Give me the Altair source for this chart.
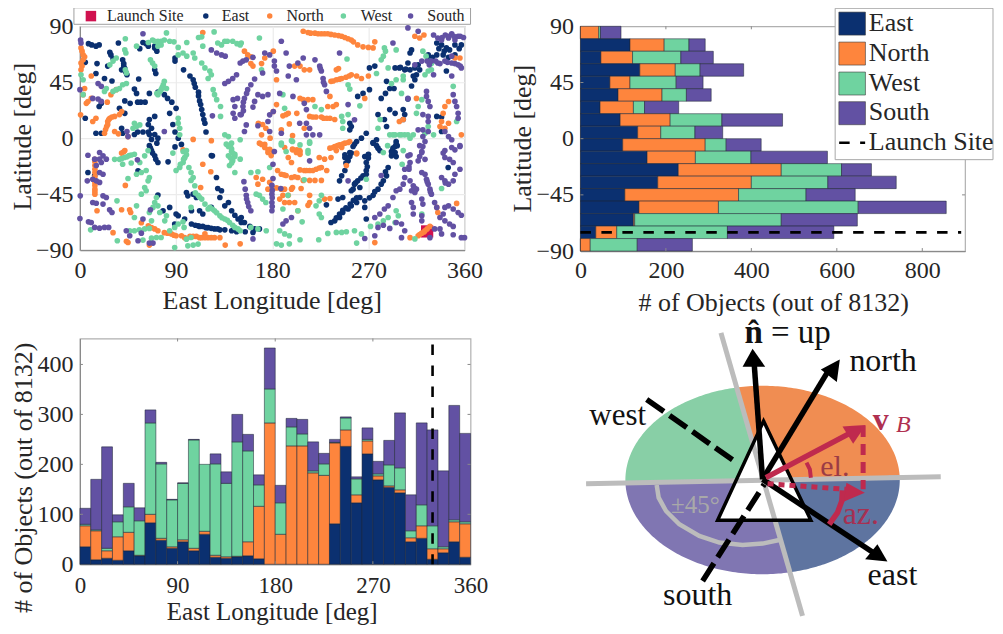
import altair as alt
import numpy as np
import pandas as pd

FONT = "Liberation Serif"
INK = "#262626"
COL = {"East": "#0b3070", "North": "#fe853d", "West": "#6fd3a0", "South": "#6251a3"}
ORDER = ["East", "North", "West", "South"]
CRIMSON = "#d0114f"
LAUNCH_LON, LAUNCH_LAT = 325, -75

east_pts = [(8,76),(11,75),(15,74),(18,75),(36,76.6),(28,69),(29,67),(31,64),(5,61),(16,60),(26,58),(40,63),(41,60),(42,56),(44,51),(15,52),(23,48),(30,46),(39,55),(59,77),(64,74),(70,72.5),(72,70),(56,72),(70,55),(71,52),(55,47.6),(51,39.5),(53,36),(65,36),(73,37),(79,35),(82,32),(86,29),(42,30),(47,28),(54,29),(57,29),(61,29),(18,25.5),(20,28),(37,24),(42,20),(70,17.5),(65,15),(5,16),(90,24),(84,20),(64,11),(67,8),(54,5),(59,5),(64,5),(15,4),(20,4),(39,8),(40,4),(51,3),(65,3),(70,3),(73,0),(67,-1),(72,-4),(87,11),(89,5),(92,0),(95,-5),(89,-7),(123,-14),(97,55),(89,64.5),(89,62),(103,50),(107,44),(108,41),(111,34),(112,30),(114,23),(115,19),(117,12),(118,5),
(271,56.5),(276,58),(260,33.6),(265,36),(271,39),(282,32),(286,36),(290,40),(294,40),(287,45.7),(295,56.5),(299,56.5),(304,55),(309,55),(313.5,56.5),(316.6,59),(318,55),(315,51),(313.5,47),(310.4,42),(307,60.5),(309,68.5),(310.4,71),(334,76.6),(338.5,75),(343,72.6),(351,75),(357,75),(340,67),(346,71),(327.6,63),(334,67),(351,67),(343,54),(290,23),(295,20),(302.6,23),(304,19),(302.6,15),(279,19),(285,15),(287,9.4),(338.5,17),(334,17.5),(307,31.5),(252.6,12),(254,9.4),(252.6,6.7),(268,4),(263.5,0),(259,-2.7),(255.7,-6.7),(277.6,-1.3),(274.4,-4),(279,-8),(296,-2.7),(295,-6.7),(291.6,-10.7),(296,-14.8),(248,-13.4),(252.6,-14.8),(270,-13.4),(266.6,-14.8),(338.5,5.4),
(257,-4.8),(252.6,-11.5),(248,-15.5),(251,-18.2),(248,-26),(245,-30.3),(243,-34.3),(270,-12.9),(268,-19.6),(268,-26),(265,-30.3),(260,-34.3),(257,-37),(254,-42.3),(274.4,-3.5),(288.5,-23.6),(287,-30.3),(284,-34.3),(279,-41),(274.4,-46),(266.6,-50.4),(266.6,-55.7),(295,-11.5),(296,-4.8),(291.6,-14.2),(277.6,-6),(280.7,-10),(262,-47.7),(259,-51.7),(254,-54.4),(251,-57),(246,-59.8),(243,-63.8),(238.5,-66.5),(235,-67.8),(230.7,-53.6),(241.6,-49),(246,-47.7),(268,-65),(255.7,-41),(262,-39.7),(344.7,-23.6),(151,-63.8),(154,-67.8),(159,-71),(163.5,-73),(168,-73),(154.7,-75.3),(162,-75.8),
(65,-6),(67,-10),(70,-14.2),(73,-19.6),(54.4,-26.3),(73,-45.8),(7.5,-27.6),(13.8,-30),(124,-14.2),(82.5,-19),(99.7,-43.7),(101,-46.4),(106,-45),(109,-47.7),(129,-40.5),(132.5,-42.3),(131,-47.7),(135.6,-54.4),(139,-51.7),(127.8,-31.6),(77.8,-58.4),(84,-55.7),(90,-61),(92,-62.4),(98,-65),(88.7,-69),(104.4,-58.4),(112,-58.4),(115,-61),(123,-55.7),(104.4,-69),(110.6,-70.5),(115,-71),(120,-72),(126,-73),(131,-73.7),(135.6,-73.7),(142,-74.5),(146.6,-75.3),(142,-58.4),(145,-62),(148,-65),(151,-67.8),
(240,-64),(243,-61),(246,-58),(249,-56),(253,-53),(256,-50),(259,-48),(254,-12),(250,-16),(249,-20),(270,-16),(269,-23),(268,-29),(263,-32),(258,-36),(286,-27),(282,-37),(276,-43),(271,-48),(293,-8),(292,-12),(297,-6),(305,55.5),(312,50),(300,57),(336,72),(341,70),(326,67),(330,65),(345,65),(355,72),(108,-70),(112,-71),(118,-72),(123,-72.5),(129,-73),(66,-8),(68,-12),(71,-17),(113,27),(116,15),(111,37),(106,47),(43,53),(41,58),(70,74),(62,76)]

north_pts = [(209,86),(213.5,85),(220,84.5),(226,84),(232,84),(238.5,83),(245,82),(251,80),(256,77.5),(260,75),(265,73.5),(270,73),(276,77.5),(115,85),(313.5,82),(318,80.6),(322,83),(154,70),(157,67),(160,65.5),(160,60),(162,58),(170,60),(173,64.5),(181,70),(201,58),(206,58),(210,55),(215,55),(184,47),(240,55),(242,56),(235,45.7),(240,47),(245,48),(249,49),(254,51),(259,50),(263.5,48),(270,50),(234,33.6),(232,25.5),(237,25.5),(240,27),(209,31),(213.5,31),(218,31),(206,32),(184,27),(181,21.5),(190,18),(195,20),(203,20),(215,17.5),(221,17),(228,16),(234,16),(238.5,15),(196,11.5),(188.5,6.7),(167,12),(171,11),(174,8),(170,2.7),(178,0),(199,2),(210,8),(168,-4),(173,-5),(176,-9.4),(181,-10.7),(199,-9.4),(203,-9.4),(206,-10.7),(206,-13),(234,-8),(238.5,-6.7),(243,-5.4),(248,-4),(252.5,-2.7),(299,13.4),(302.6,15),(338.5,13.4),(340,20),(341.6,25.5),(345,29.5),(345,12),(341.6,8),(337,9.4),(357,2.7),(266.6,32),(259,-12.6),(315,32),(355.7,64.5),(351,64.5),(274.4,72.6),
(1,72.6),(3,67),(1,60.5),(1,55),(4.4,65.5),(3,63),(10.6,50),(4.4,40),(3,35),(6,28),(10.6,32),(7.5,29.5),(25.6,29),(34,39),(29,35),(0.6,18.8),(12,13.4),(15,16),(32.5,17.5),(28,16),(25,9.4),(23,4),(26,13.4),(37,19),(39,21.5),(32.5,5.4),(36,3.5),(45,1.3),(106,-1),(123,-2),(41,-11),(39,-12),(96.6,-9.4),
(42,-10),(14,-17),(14,-22),(14,-27.6),(14,-35.6),(14,-41),(14,-45),(16,-58.4),(42.5,-38),(39,-57.6),(46.5,-57.6),(47.5,-59.8),(115,-21),(122.5,-27),(113,-39.7),(31,-76),(43.5,-83),(45,-83.9),(64,-70.5),(67,-72),(70,-73),(73,-74.5),(65,-86),(79,-76),(85.6,-77),(90,-78.5),(95,-78.5),(98,-80),(109,-79),(114,-80),(120,-80),(126,-80),(131,-80),(136,-86),(150,-85),(57.5,-68),(117,-77),
(170,-5),(173,-7.5),(176,-11.5),(179,-14),(177.6,-9),(191.6,-7.5),(199,-8.8),(202.6,-11.5),(205.7,-10),(195,-15.5),(198,-19.6),(224,-15.5),(229,-16.9),(235,-15.5),(240,-10),(245,-7.5),(251,-3.5),(185,-26),(188.5,-29),(193,-30),(198,-31.6),(204,-31.6),(206,-25.5),(210,-26),(215,-26),(221,-25),(226,-23.6),(231,-26),(215,-34),(220,-34),(226,-34),(209,-34),(165,-31.6),(166.6,-37),(171,-33),(177.6,-35.6),(176,-41),(184,-40),(188.5,-41),(191.6,-41),(199,-39.7),(207,-40.5),(190,-46),(195,-46),(187,-49),(198,-41),(191.6,-51.7),(196,-51.7),(201,-51.7),(215,-46),(215,-51.7),(213.5,-54),(204,-58.4),(229,-49),(234,-48.5),(259,-12),(249.4,-22),(309,-80),(276,-84),(352.6,-52.5),(334,-55.7),(335,-59.8),(316.6,-78.5),(320,-76.4),(323,-74.5),(327.6,-71),
(216,84.5),(223,84),(229,84),(235,83.5),(242,82.5),(248,81),(254,79),(26,11),(24,7),(27,15),(30,17),(2,70),(2,58),(237,46),(243,47.5),(252,50),(218,-26),(224,-24),(212,-26),(201,-31),(191,-29.5),(237,-7.5),(241,-6),(246,-4.7),(14,-19),(14,-25),(14,-31),(14,-38),(14,-43),(103,-79),(106,-79),(112,-80),(117,-80),(123,-80),(82,-76.5),(88,-78),(318,-77.5),(322,-75.5),(325,-73),(226,17),(231,16),(218,17),(193,19)]

west_pts = [(42.5,80),(81,84.7),(125.6,85.5),(64,77),(68,79),(73,78),(76,78),(79,79),(76,75),(73,74),(88,77.5),(42,71),(43,68.5),(53,74),(100,77),(92,73),(96.5,68.5),(92,67),(100,66),(114,81.5),(111,81),(115,74),(106,68.5),(107.5,64.5),(114,60.5),(117,56.5),(121.6,54),(123,51),(120,48),(129,76.6),(135.6,78),(143,78),(150,75),(132.5,75),(34,64.5),(31,62),(28,59),(1,51),(3,47),(66,63),(68,60.5),(70,58),(42.5,55),(43.5,52.4),(79,45.7),(78,43),(76,39),(73,35),(81,40),(75,37.6),(37,40),(34,39),(31,37.6),(40,43),(43.5,44),(24.7,40),(23,37.6),(3,35),(124.7,39),(126,35),(128,31),(131.6,25.5),(131.6,17.5),(92,16),(92,12),(93.4,8),(93.4,2.7),(49.7,8),(53,9.4),(56,10.7),(51,12),(135.6,2.7),(139,1.3),(141.9,-4),(141.9,-10.7),(139,-6.7),(145,-14.8),(150,-1.3),(87,-12),(96.6,-10.7),(99.7,-13.4),(98,-16),
(32.5,-17),(37,-17),(41.6,-15.5),(46,-14),(51,-12.9),(40,-21),(48,-20),(56,-19.6),(60.6,-14.2),(63.8,-10),(53,-29),(57.5,-27.6),(62,-26),(45,-32.4),(63.8,-34.3),(60.6,-39.7),(57.5,-45),(62,-42.3),(65,-31.6),(34.7,-50.4),(53,-54.4),(71.6,-47.7),(70,-51.7),(68.4,-55.7),(74.7,-59.8),(73,-54.4),(65,-59.8),(51,-63.8),(67,-66.5),(46.6,-74.5),(51,-74.5),(55.6,-73.7),(60.6,-73),(65,-72.6),(10,-73.7),(35,-82.5),(59,-82),(67,-80.4),(71.6,-79.9),(76,-79.9),(81,-62.4),(79.4,-66.5),(84,-74.5),(88.7,-71.8),(92,-69),(96.5,-67.3),(97.5,-71.8),(88.7,-88),(99.7,-81.2),(104,-79.9),(101,-86.6),(106,-86),(110.6,-85.2),(90,-26),(93.4,-23.6),(96.6,-19.6),(98,-15.5),(99.7,-10),(102,-23.6),(104,-27.6),(106,-31.6),(104,-55.7),(110.6,-46),(114,-49),(117,-53),(121.6,-55.7),(126,-58.4),(131,-62.4),(135.6,-65),(140,-67.8),(145,-71.8),(150,-74.5),(142,-8.8),(145,-12.9),(143,-18.2),(139,-14.2),(140,-22),(145,-27.6),(150,-16.9),(137,-4.8),(104,-34),(107.5,-38.3),
(160,-27.6),(166.6,-27),(177.6,-23.6),(168,-46),(171,-49),(174,-51.7),(165,-45),(160,-71.8),(166.6,-73),(174.4,-74.5),(194.7,-46),(210,-33.5),(213.5,-10),(215,-3),(198,-2),(188.5,-4),(190,-57),(204,-58.4),(226,-46),(224,-50.4),(221,-54.4),(224,-61),(226,-63.8),(208,-67.3),(187,-74.5),(191.6,-77),(196,-78.5),(206,-81.7),(184,-85),(188.5,-86),(196,-85),(223.5,-81.7),(232,-76.6),(240,-75.8),(245,-75.8),(249.4,-75.3),(257,-74.5),(259,-84.4),(263.5,-77),(268,-33),(272,-71),(279,-69),(284,-66.5),(288.5,-63.8),(296,-58.4),(298,-62.4),(295,-67.8),(301.6,-21),(302.6,-10),(284,-11.5),(288,-6),(313.5,-81),(320,-61),(338.5,-40.5),
(168,80.6),(151,76.6),(170,55),(285,72.6),(286,70),(284,66),(282,63),(250,63.7),(251,43),(252.6,39.5),(321,70),(324,66),(327.6,61.8),(329,60),(296,71),(277.6,52),(288.5,56.5),(302.6,50),(302.6,47),(291.6,44),(296,47),(323,51),(326,54),(329,55),(301,36),(349.4,41.7),(190,35),(191.6,24),(220,25.5),(226,23),(251,19),(245,17.5),(246,13.4),(246,8),(281,15),(279,8),(262,26),(320,31),(316.6,25.5),(315,20),(326,9.4),(290,2.7),(295,2.7),(299,2.7),(304,2.7),(312,2.7),(309,0),(323,4),(331,2.7),(352.6,13.4),(188.5,-5.4),(193,-10.7),(199,-2.7),(206,-5.4),(215,-4),(213.5,-12),
(120,-57),(124,-57),(128,-60),(133,-64),(138,-66),(143,-70),(148,-73),(112,-47.5),(108,-44),(70,78),(84,78),(138,78),(147,76),(77,41),(72,36),(141,-7),(143,-12),(141,-16),(142,-20),(39,-16.5),(44,-15),(48,-13.5),(293,2.7),(301,2.7),(307,2.7),(94,-21),(97,-17)]

south_pts = [(0.6,79),(1,76.6),(59,84),(123,71),(128,68.5),(132.5,67),(136,66),(17,44),(20,41.7),(0,39),(12,32),(17,31.5),(20,29.6),(135.6,44),(139,45.7),(143,48),(146.6,51),(150,60.5),(143.4,31),(147.5,32),(145,25.5),(143.4,20),(145,16),(124,18),(44,5.4),(45,1.3),(79,5.4),(150,19),
(152.6,62),(155.7,63),(162,65),(173,68.5),(177.6,67),(188.5,78),(193,68.5),(182,62),(182,58),(184,54),(171,52.4),(163.5,47.6),(196,58),(204,60.5),(209,64.5),(220,63),(195,50),(202.6,47),(224.4,58),(226,54),(227.6,48),(229,43),(230.7,37.6),(243,68.5),(160,43),(157,39),(154,32),(152.6,25.5),(151,19),(155.7,10.7),(154,5.4),(166.6,35),(171,33.6),(176,35),(163.5,29.6),(162,25),(177.6,18.8),(181,21.5),(176,13.4),(177.6,5.4),(166.6,10),(187,36),(199.4,33.6),(210,28),(212,23),(205.7,12),(212,12),(215,8),(218,2.7),(212,2.7),(188.5,4),(224.4,2.7),(257,14.8),(251,27),(182,-10.7),(307,88.7),(316.6,86),(331,83),(335,80.6),(342,83),(348,84),(354,82),(359,81),(338.5,79),(345,80.6),(351,79),(293,76.6),(320,62),(329,62),(335,60.5),(341.6,62),(348,60.5),(354,59),(357,56.5),(348,66),(331,51),(348,50),(313.5,59),(324.4,37.6),(324.4,33.6),(326,29.6),(327.6,25.5),(351,29.6),(352.6,25.5),(354,20),(354,16),(349.4,35),(307,32),(321,19),(326,17.5),(326,13.4),(316.6,6.7),(321,6.7),(326,5.4),(341.6,5.4),(345,1.3),(348,-1.3),(321,1.3),(323,-2.7),(321,-6.7),(320,-10.7),(318,-14.8),(340,-12),(351,-9.4),(355.7,-6.7),(309,-13.4),
(7.5,-13.7),(18.4,-11.5),(21.6,-14.2),(24.7,-16.9),(13.8,-16.9),(15.3,-22),(18.4,-16.9),(20,-19.6),(21.6,-29),(18.4,-27.6),(6.9,-34.3),(12,-33),(15.3,-34.3),(18.4,-35.6),(0.3,-46.4),(21.6,-46.4),(24.7,-47.7),(12,-51.7),(15.3,-52.3),(21.6,-53),(27.8,-57.6),(30,-59.8),(0,-64.6),(8,-67.3),(10.6,-67.8),(13.8,-71.8),(18.4,-72.4),(23,-71.8),(26.9,-71.8),(43.4,-74.5),(46.6,-78.5),(54.4,-82.5),(57.5,-76.4),(65,-84.4),(68.4,-84.4),(66,-57.6),(53.8,-17.4),(59,-65),
(154.7,-41),(155.7,-46),(157,-51.7),(160,-58.4),(153.5,-35),(179.7,-38),(179.7,-45),(179.7,-51.7),(179.7,-58.4),(180.7,-21),(180.7,-32.4),(188,-40.5),(190,-69),(193,-66.5),(198,-63.8),(215,-18.2),(251,-34.3),(162,-81),(307,-14.2),(309,-19.6),(308,-25),(304,-31.6),(302.6,-37),(318,-6),(320,-11.5),(316.6,-18.2),(323,-17),(320,-27.6),(323,-29),(304,-25),(309,-34.3),(312,-38.3),(315,-41),(310.4,-42.3),(313.5,-43.7),(324.4,-33),(326,-37),(327.6,-41),(329,-45),(296,-42.3),(299.4,-41),(293,-47.7),(310.4,-51.7),(312,-55.7),(312,-61),(320,-49),(321,-53),(332,-51.7),(334,-55.7),(341.6,-15.5),(346,-17),(349.4,-19.6),(341.6,-10),(348,-7.5),(355.7,-6),(338.5,-31.6),(341.6,-34.3),(345,-37),(349.4,-34.3),(351,-29),(355.7,-25),(341.6,-55.7),(345,-54.4),(340,-61),(337,-63.8),(349.4,-57),(354,-59.8),(357,-62),(341.6,-66.5),(346,-69),(349.4,-71),(337,-73),(338.5,-77),(349.4,-77.7),(357,-80),(360,-80),(332,-73),(327.6,-80),(320,-62.4),(320,-66.5),(304,-74.5),(301,-80),(276,-78.5),(266.6,-80.7),(276,-63.8),(280.7,-61),(285,-57),(288.5,-54.4),(279,-71.8),(284,-70),(290,-72.6),(296,-67.8),(301,-69),(282,-30),
(337,60),(344,61),(351,60),(356,58),(333,62),(325,62),(327,59),(345,82),(350,82),(356,82),(339,81),(180,-42),(180,-48),(180,-55),(156,-49),(158,-55),(308,-23),(313,-40),(342,-36),(325,-35),(328,-43),(228,45),(225,56),(153,22),(153,29),(156,36)]

# latitude histogram, top bin (80..90) first
lat_top = list(range(90, -90, -10))
east_b = [0,116,48,139,69,88,46,93,134,99,156,229,181,104,137,124,36,0]
north_b = [43,80,74,83,47,103,78,117,54,193,113,241,219,266,186,3,49,23]
west_b = [4,58,113,58,108,57,26,121,80,49,130,141,179,158,327,343,259,110]
south_b = [48,38,76,102,63,58,80,142,65,82,179,70,160,115,206,178,249,129]

# longitude histogram, 10 degree bins from 0
lon_start = list(range(0, 360, 10))
east_c = [35,9,12,8,27,17,83,48,32,45,27,60,14,12,15,17,11,0,0,0,0,0,0,81,236,123,221,169,154,143,45,52,10,23,45,14]
north_c = [42,58,15,47,37,1,17,4,3,4,5,6,4,3,1,28,105,283,60,237,237,183,178,162,33,16,26,8,3,6,8,25,21,8,40,67]
west_c = [3,2,5,30,51,69,183,149,94,113,217,134,183,147,229,182,43,68,63,38,24,4,23,1,24,32,3,4,42,44,14,42,46,4,4,4]
south_c = [32,101,203,14,47,26,26,3,1,1,1,0,20,23,55,33,20,82,35,17,29,58,21,6,2,4,23,25,49,110,72,164,192,152,229,177]

GRID = "#ebebeb"
DOMAIN = "#8a8a8a"
BOX = "#b0b0b0"
one = pd.DataFrame({"a": [0]})
color_scale = alt.Scale(domain=ORDER, range=[COL[k] for k in ORDER])

def axis(values, title, tx, ty, rotated=False, grid=False, pad=8, lsize=24, tsize=26):
    kw = dict(values=values, title=title, grid=grid, gridColor=GRID, gridWidth=1.2, tickSize=0, labelPadding=pad,
              labelFont=FONT, labelFontSize=lsize, labelColor=INK, titleFont=FONT, titleFontSize=tsize,
              titleFontWeight="normal", titleColor=INK, domainColor=DOMAIN, domainWidth=1.2,
              titleX=tx, titleY=ty, titleAlign="center", titleBaseline="middle", labelFlush=False)
    if rotated:
        kw["titleAngle"] = 270
    return alt.Axis(**kw)

def box(x1, x2, y1, y2, fill, stroke=None, sw=1):
    kw = dict(fill=fill, strokeWidth=sw)
    if stroke:
        kw["stroke"] = stroke
    return alt.Chart(one).mark_rect(**kw).encode(x=alt.value(x1), x2=alt.value(x2), y=alt.value(y1), y2=alt.value(y2))

def label(x, y, text, size, color=INK, align="left"):
    return alt.Chart(one).mark_text(text=text, font=FONT, fontSize=size, color=color, align=align, baseline="middle").encode(
        x=alt.value(x), y=alt.value(y))

# ---------- top-left scatter
AW, AH = 385, 224
lon_s = alt.Scale(domain=[0, 360], nice=False)
lat_s = alt.Scale(domain=[-90, 90], nice=False)
base_a = alt.Chart(pd.DataFrame({"lon": [LAUNCH_LON], "lat": [LAUNCH_LAT]})).mark_square(size=150, color=CRIMSON, opacity=1).encode(
    x=alt.X("lon:Q", scale=lon_s, axis=axis([0,90,180,270,360], "East Longitude [deg]", 192, 50, grid=True)),
    y=alt.Y("lat:Q", scale=lat_s, axis=axis([-90,-45,0,45,90], "Latitude [deg]", -57, 110, rotated=True, grid=True, pad=7)))
layers_a = [base_a]
for name, pts in zip(ORDER, [east_pts, north_pts, west_pts, south_pts]):
    df = pd.DataFrame(pts, columns=["lon", "lat"])
    layers_a.append(alt.Chart(df).mark_circle(size=32, color=COL[name], opacity=1).encode(
        x=alt.X("lon:Q", scale=lon_s), y=alt.Y("lat:Q", scale=lat_s)))
OX = 79
layers_a.append(box(73-OX, 470-OX, -18.5, -2, "white", "#a0a0a0"))
layers_a.append(alt.Chart(one).mark_square(size=110, color=CRIMSON, opacity=1).encode(x=alt.value(90-OX), y=alt.value(-10.2)))
layers_a.append(label(106-OX, -10.2, "Launch Site", 16))
for name, dx, tx in [("East", 205, 221), ("North", 269, 285.7), ("West", 342.7, 360), ("South", 410, 426.7)]:
    layers_a.append(alt.Chart(one).mark_circle(size=30, color=COL[name], opacity=1).encode(x=alt.value(dx-OX), y=alt.value(-10.2)))
    layers_a.append(label(tx-OX, -10.2, name, 16))
chart_a = alt.layer(*layers_a).properties(width=AW, height=AH, view=alt.ViewConfig(stroke=BOX))

def inward(values, orient, w, h):
    df = pd.DataFrame({"v": values})
    out = []
    if orient == "x":
        for a, b in [(h, h-3), (0, 3)]:
            out.append(alt.Chart(df).mark_rule(color=DOMAIN, strokeWidth=1).encode(x=alt.X("v:Q"), y=alt.value(a), y2=alt.value(b)))
    else:
        for a, b in [(0, 3), (w, w-3)]:
            out.append(alt.Chart(df).mark_rule(color=DOMAIN, strokeWidth=1).encode(y=alt.Y("v:Q"), x=alt.value(a), x2=alt.value(b)))
    return out

# ---------- top-right latitude histogram
BW, BH = 385, 225
rows = []
for i, top in enumerate(lat_top):
    left = 0
    for name, arr in zip(ORDER, [east_b, north_b, west_b, south_b]):
        rows.append({"top": top, "bot": top-10, "x0": left, "x1": left+arr[i], "dir": name})
        left += arr[i]
df_b = pd.DataFrame(rows)
cnt_s = alt.Scale(domain=[0, 900], nice=False)
bars_b = alt.Chart(df_b).mark_bar(stroke="#1d2433", strokeWidth=0.7, strokeOpacity=0.75).encode(
    x=alt.X("x0:Q", scale=cnt_s, axis=axis([0,200,400,600,800], "# of Objects (out of 8132)", 193, 51, pad=7)),
    x2="x1:Q",
    y=alt.Y("top:Q", scale=lat_s, axis=axis([-90,-45,0,45,90], "Latitude [deg]", -58, 112, rotated=True, pad=7)),
    y2="bot:Q",
    color=alt.Color("dir:N", scale=color_scale, legend=None))
dash_b = alt.Chart(pd.DataFrame({"x0": [0], "x1": [891], "lat": [LAUNCH_LAT]})).mark_rule(
    color="black", strokeWidth=2.6, strokeDash=[10.5, 10.5]).encode(
    x=alt.X("x0:Q", scale=cnt_s), x2="x1:Q", y=alt.Y("lat:Q", scale=lat_s))
OXB, OYB = 581, 26.5
layers_b = [bars_b, dash_b] + inward([200,400,600,800], "x", BW, BH) + inward([-45,0,45], "y", BW, BH)
layers_b.append(box(836-OXB, 994-OXB, 8.5-OYB, 160-OYB, "white", "#a8a8a8"))
for name, y0 in zip(ORDER, [12.3, 42.3, 72.3, 102]):
    layers_b.append(box(839.7-OXB, 866.3-OXB, y0-OYB, y0+23-OYB, COL[name], "#3a3a3a", 0.6))
    layers_b.append(label(869.7-OXB, y0+10.5-OYB, name, 26))
layers_b.append(alt.Chart(one).mark_rule(color="black", strokeWidth=2.6, strokeDash=[10.5, 10.5]).encode(
    x=alt.value(840-OXB), x2=alt.value(866-OXB), y=alt.value(143-OYB)))
layers_b.append(label(869.7-OXB, 142-OYB, "Launch Site", 26))
chart_b = alt.layer(*layers_b).properties(width=BW, height=BH, view=alt.ViewConfig(stroke=BOX))

# ---------- bottom-left longitude histogram
CW, CH = 391, 226
rows = []
for i, lo in enumerate(lon_start):
    base = 0
    for name, arr in zip(ORDER, [east_c, north_c, west_c, south_c]):
        rows.append({"lo": lo, "hi": lo+10, "y0": base, "y1": base+arr[i], "dir": name})
        base += arr[i]
df_c = pd.DataFrame(rows)
df_c = df_c[df_c.y1 > df_c.y0]
h_s = alt.Scale(domain=[0, 452], nice=False)
bars_c = alt.Chart(df_c).mark_bar(stroke="#1d2433", strokeWidth=0.7, strokeOpacity=0.75).encode(
    x=alt.X("lo:Q", scale=lon_s, axis=axis([0,90,180,270,360], "East Longitude [deg]", 192, 47.5, pad=10.5, lsize=23, tsize=25)),
    x2="hi:Q",
    y=alt.Y("y0:Q", scale=h_s, axis=axis([0,100,200,300,400], "# of Objects (out of 8132)", -56, 139, rotated=True, pad=7)),
    y2="y1:Q",
    color=alt.Color("dir:N", scale=color_scale, legend=None))
dash_c = alt.Chart(pd.DataFrame({"lon": [LAUNCH_LON], "y0": [440], "y1": [0]})).mark_rule(
    color="black", strokeWidth=2.6, strokeDash=[10.5, 10.5]).encode(
    x=alt.X("lon:Q", scale=lon_s), y=alt.Y("y0:Q", scale=h_s), y2="y1:Q")
chart_c = alt.layer(bars_c, dash_c, *inward([90,180,270], "x", CW, CH), *inward([100,200,300,400], "y", CW, CH)).properties(
    width=CW, height=CH, view=alt.ViewConfig(stroke=BOX))

# ---------- bottom-right schematic (units: 3 per picture pixel)
dx_s = alt.Scale(domain=[33, 1188], nice=False, zero=False)
dy_s = alt.Scale(domain=[750, 72], nice=False, zero=False)
X = lambda: alt.X("x:Q", scale=dx_s, axis=None)
Y = lambda: alt.Y("y:Q", scale=dy_s, axis=None)

def poly(verts, fill):
    xs = sorted({round(v[0], 3) for v in verts})
    rows = []
    n = len(verts)
    for x in xs:
        ys = []
        for i in range(n):
            (x1, y1), (x2, y2) = verts[i], verts[(i+1) % n]
            if min(x1, x2) - 1e-3 <= x <= max(x1, x2) + 1e-3:
                if abs(x2-x1) < 1e-6:
                    ys += [y1, y2]
                else:
                    ys.append(y1 + (y2-y1)*(x-x1)/(x2-x1))
        rows.append({"x": x, "y": min(ys), "y2": max(ys)})
    return alt.Chart(pd.DataFrame(rows)).mark_area(color=fill, opacity=1, orient="vertical", interpolate="linear").encode(
        x=X(), y=Y(), y2="y2:Q")

def line(pts, color, width, dash=None, cap="butt"):
    df = pd.DataFrame(pts, columns=["x", "y"])
    df["i"] = range(len(df))
    kw = dict(color=color, strokeWidth=width, strokeCap=cap, strokeJoin="miter")
    if dash:
        kw["strokeDash"] = dash
    return alt.Chart(df).mark_line(**kw).encode(x=X(), y=Y(), order="i:Q")

def dtext(x, y, text, size, color="#111111", align="center", **kw):
    return alt.Chart(pd.DataFrame({"x": [x], "y": [y]})).mark_text(
        text=text, font=FONT, fontSize=size, color=color, align=align, baseline="middle", **kw).encode(x=X(), y=Y())

CX, CY, RX, RY = 580, 497, 412, 283
C0 = (585, 503)
def arc(x0, y0, x1, y1, ccw):
    t0 = np.arctan2((y0-CY)/RY, (x0-CX)/RX)
    t1 = np.arctan2((y1-CY)/RY, (x1-CX)/RX)
    if ccw and t1 > t0:
        t1 -= 2*np.pi
    if not ccw and t1 < t0:
        t1 += 2*np.pi
    return [(CX+RX*np.cos(t), CY+RY*np.sin(t)) for t in np.linspace(t0, t1, 90)]

P_top = (500, 222); P_right = (992, 483); P_bot = (660, 776); P_left = (168, 500)
wedges = [
    ("#88cfa6", [C0] + arc(*P_left, *P_top, False)),
    ("#f08d52", [C0] + arc(*P_top, *P_right, False)),
    ("#5e74a0", [C0] + arc(*P_right, *P_bot, False)),
    ("#8076b2", [C0] + arc(*P_bot, *P_left, False)),
]
GRAY = "#bcbcbc"
d_layers = [poly(v, c) for c, v in wedges]
tri = [(583, 320), (725, 618), (445, 618)]
d_layers += [poly(tri, "white")]
d_layers += [line([(50, 508), (1115, 487)], GRAY, 5), line([(455, 55), (700, 905)], GRAY, 5)]
d_layers += [line([(262, 512), (268, 550), (290, 590), (330, 630), (390, 665), (450, 685), (520, 692), (580, 688), (630, 677)], GRAY, 4.5)]
d_layers += [line(tri + [tri[0], tri[1]], "black", 3.5)]
d_layers += [line([(232, 255), (505, 447)], "black", 5.5, [21, 7]),
             line([(400, 800), (585, 510)], "black", 5.5, [21, 7]),
             line([(580, 495), (555, 150)], "black", 5.5),
             poly([(550, 103), (588, 157), (520, 157)], "black"),
             line([(580, 495), (780, 165)], "black", 5.5),
             poly([(812, 135), (803, 203), (755, 165)], "black"),
             line([(580, 495), (920, 720)], "black", 5.5),
             poly([(955, 742), (888, 735), (925, 690)], "black")]
VB = "#bf2a4e"
d_layers += [line([(590, 490), (860, 347)], VB, 5.5),
             poly([(890, 332), (820, 336), (852, 388)], VB),
             line([(882, 335), (882, 525)], VB, 5, [11, 7]),
             line([(595, 508), (830, 525)], VB, 5, [6, 5]),
             poly([(887, 535), (832, 505), (822, 563)], VB),
             line([(780, 630), (805, 595), (818, 560), (820, 528)], VB, 5.5),
             line([(712, 445), (722, 465), (725, 490)], VB, 4)]
d_layers += [dtext(553, 55, "n\u0302", 33, fontWeight="bold"),
             dtext(605, 55, "= up", 33, align="left"),
             dtext(942, 140, "north", 32),
             dtext(145, 305, "west", 31),
             dtext(970, 783, "east", 32),
             dtext(385, 843, "south", 32),
             dtext(935, 318, "v", 32, color="#b03050", fontWeight="bold"),
             dtext(1003, 332, "B", 24, color="#b03050", fontStyle="italic"),
             dtext(797, 458, "el.", 30, color="#9c3c45"),
             dtext(875, 600, "az.", 32, color="#a63052"),
             dtext(378, 572, "\u00b145\u00b0", 25, color="#a9a9a9")]
chart_d = alt.layer(*d_layers).properties(width=BW, height=CH, view=alt.ViewConfig(stroke=None))

chart = alt.concat(chart_a, chart_b, chart_c, chart_d, columns=2, spacing={"row": 87.5, "column": 110}, bounds="flush").properties(
    padding={"left": 1, "top": -2, "right": 0, "bottom": 0}
).configure_view(strokeWidth=1.2).configure_axis(labelFontWeight="normal")

chart.save("out.html", embed_options={"renderer": "svg", "actions": False})
